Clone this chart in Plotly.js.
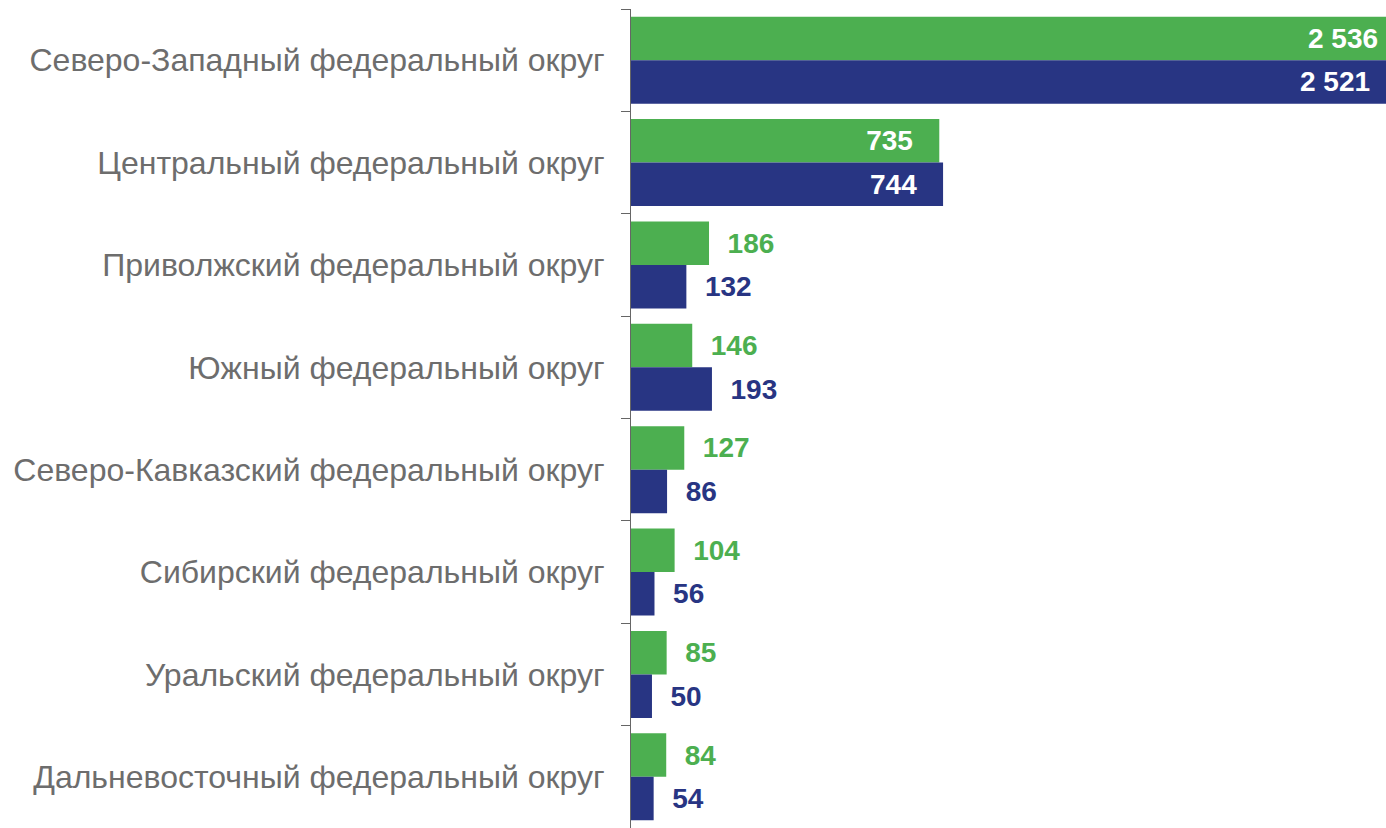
<!DOCTYPE html>
<html>
<head>
<meta charset="utf-8">
<script src="https://cdn.plot.ly/plotly-3.0.1.min.js"></script>
<style>html,body{margin:0;padding:0;background:#fff;}#chart{width:1386px;height:828px;}</style>
</head>
<body>
<div id="chart"></div>
<script>
const categories = [
  "Северо-Западный федеральный округ",
  "Центральный федеральный округ",
  "Приволжский федеральный округ",
  "Южный федеральный округ",
  "Северо-Кавказский федеральный округ",
  "Сибирский федеральный округ",
  "Уральский федеральный округ",
  "Дальневосточный федеральный округ"
];
const seriesGreen = [2536, 735, 186, 146, 127, 104, 85, 84];
const seriesNavy  = [2521, 744, 132, 193, 86, 56, 50, 54];

const GREEN = "#4caf50";
const NAVY = "#283583";
const XMAX = 1800;
const INSIDE_MIN = 500;
const FONT = "Liberation Sans, Arial, sans-serif";
const NB = "\u00a0";

function fmt(v){ return String(v).replace(/\B(?=(\d{3})+(?!\d))/g, " "); }

function makeTrace(vals, color){
  return {
    type: "bar", orientation: "h",
    x: vals, y: categories,
    marker: {color: color},
    text: vals.map(v => v > XMAX ? "" : (v >= INSIDE_MIN ? fmt(v) + NB+NB+NB : NB+NB + fmt(v))),
    textposition: vals.map(v => v >= INSIDE_MIN ? "inside" : "outside"),
    insidetextanchor: "end",
    textfont: {family: FONT, size: 28, color: vals.map(v => v >= INSIDE_MIN ? "#ffffff" : color), weight: "bold"},
    constraintext: "none",
    cliponaxis: true,
    hoverinfo: "x+y"
  };
}

const annotations = [];
[[seriesGreen, 22, -6], [seriesNavy, -21, -14]].forEach(([vals, shift, xs]) => {
  vals.forEach((v, i) => {
    if (v > XMAX) {
      annotations.push({
        xref: "paper", x: 1, yref: "y", y: categories[i],
        xanchor: "right", yanchor: "middle", xshift: xs, yshift: shift,
        text: "<b>" + fmt(v) + "</b>", showarrow: false,
        font: {family: FONT, size: 28, color: "#ffffff"}
      });
    }
  });
});

const layout = {
  width: 1386, height: 828,
  margin: {l: 631, r: 0, t: 9, b: 0},
  paper_bgcolor: "#ffffff", plot_bgcolor: "#ffffff",
  barmode: "group", bargap: 0.15, bargroupgap: 0,
  showlegend: false,
  xaxis: {range: [0, XMAX], visible: false, fixedrange: true},
  yaxis: {
    type: "category", autorange: "reversed",
    showline: true, linecolor: "#666666", linewidth: 1,
    ticks: "outside", tickson: "boundaries", ticklen: 9, tickcolor: "#666666",
    ticklabelstandoff: 19,
    showgrid: false, zeroline: false,
    tickfont: {family: FONT, size: 32, color: "#6d6d6d"}
  },
  annotations: annotations
};

Plotly.newPlot("chart", [makeTrace(seriesGreen, GREEN), makeTrace(seriesNavy, NAVY)], layout, {displayModeBar: false, staticPlot: true});
</script>
</body>
</html>
